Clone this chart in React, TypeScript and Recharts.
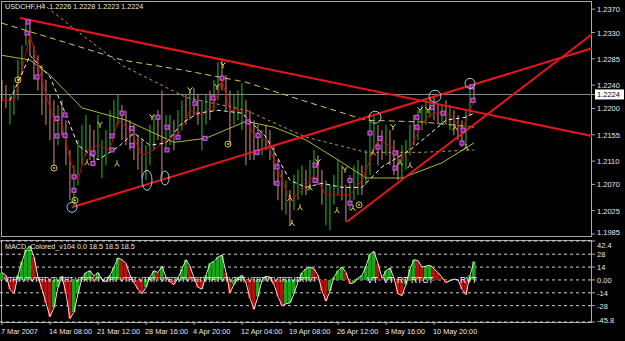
import React from "react";
import {
  ComposedChart,
  Bar,
  Line,
  XAxis,
  YAxis,
  Cell,
  ReferenceLine,
  ReferenceDot,
  Scatter,
  CartesianGrid,
} from "recharts";

// USDCHF H4 bars, one entry per bar (highs / lows, u = up bar, d = down bar)
const highs = [
  1.2249, 1.224, 1.2223, 1.224, 1.2283, 1.2308, 1.2355, 1.2351, 1.2308, 1.2291,
  1.2274, 1.2249, 1.2223, 1.2214, 1.2206, 1.2214, 1.218, 1.2129, 1.2103, 1.2146,
  1.2172, 1.2189, 1.2172, 1.2163, 1.2189, 1.2146, 1.2163, 1.2197, 1.2214, 1.2223,
  1.2206, 1.2197, 1.218, 1.2172, 1.2154, 1.2146, 1.2137, 1.2172, 1.2189, 1.2197,
  1.2231, 1.2189, 1.2189, 1.218, 1.2197, 1.2214, 1.2223, 1.2231, 1.2235, 1.2223,
  1.2214, 1.2223, 1.2231, 1.2249, 1.2279, 1.2286, 1.2257, 1.2231, 1.2223, 1.2231,
  1.2243, 1.2214, 1.2197, 1.218, 1.2172, 1.2163, 1.2172, 1.2163, 1.2137, 1.2112,
  1.2095, 1.2077, 1.206, 1.2086, 1.2095, 1.2103, 1.2095, 1.2112, 1.2129, 1.212,
  1.2095, 1.2077, 1.2069, 1.2086, 1.2112, 1.2103, 1.2069, 1.2086, 1.2103, 1.2112,
  1.2103, 1.2129, 1.218, 1.2189, 1.2172, 1.2163, 1.2172, 1.2163, 1.2146, 1.2129,
  1.2137, 1.2146, 1.2172, 1.2189, 1.2197, 1.2206, 1.2214, 1.2218, 1.2221, 1.2206,
  1.2206, 1.2214, 1.2206, 1.2197, 1.2189, 1.218, 1.2197, 1.224, 1.2235,
];
const lows = [
  1.2214, 1.2201, 1.2172, 1.2189, 1.2214, 1.2257, 1.2308, 1.2291, 1.2249, 1.2231,
  1.2189, 1.2172, 1.2146, 1.2103, 1.2137, 1.2154, 1.2103, 1.2043, 1.2032, 1.2069,
  1.2103, 1.212, 1.2112, 1.2103, 1.2112, 1.2081, 1.2103, 1.2129, 1.2154, 1.2172,
  1.2146, 1.2137, 1.2129, 1.2112, 1.2095, 1.2081, 1.2077, 1.2103, 1.2129, 1.2146,
  1.2081, 1.2129, 1.2137, 1.2129, 1.2146, 1.2163, 1.2172, 1.218, 1.2189, 1.2172,
  1.2129, 1.2172, 1.218, 1.2197, 1.2214, 1.2231, 1.2197, 1.2137, 1.2172, 1.218,
  1.2163, 1.2103, 1.2112, 1.2112, 1.212, 1.212, 1.2129, 1.2112, 1.2069, 1.2043,
  1.2026, 1.2018, 1.2, 1.2026, 1.2043, 1.2052, 1.2052, 1.206, 1.2077, 1.2069,
  1.2035, 1.2, 1.1992, 1.2035, 1.2052, 1.2043, 1.2006, 1.2026, 1.2043, 1.2052,
  1.2052, 1.2069, 1.2086, 1.2129, 1.2103, 1.2112, 1.212, 1.2103, 1.2086, 1.2077,
  1.2081, 1.2095, 1.212, 1.2137, 1.2146, 1.2163, 1.2172, 1.2184, 1.218, 1.2172,
  1.2172, 1.2172, 1.2163, 1.2154, 1.2146, 1.2134, 1.2137, 1.2189, 1.2214,
];
const dirs =
  "dduuuuuddd" + "dddduddduu" + "uudduuuuuu" + "dddddduuud" + "duuduududd" +
  "uuduuddduu" + "uddddudddd" + "duduuuduud" + "duuuudduuu" + "duuudduddd" +
  "uuuduuuudd" + "ududdduud";

// moving averages, read at [bar, price]
const slowMa: [number, number][] = [
  [0, 1.2346], [14, 1.2317], [30, 1.2283], [45, 1.2266], [61, 1.2245],
  [75, 1.2214], [91, 1.218], [105, 1.2177], [118, 1.2168],
];
const midMa: [number, number][] = [
  [10, 1.238], [20, 1.2326], [30, 1.2274], [46, 1.2219], [61, 1.2197],
  [76, 1.2151], [91, 1.2125], [105, 1.2125], [118, 1.2129],
];
const trendMa: [number, number][] = [
  [0, 1.2291], [7, 1.2283], [12, 1.2257], [20, 1.2201], [31, 1.218],
  [43, 1.2142], [51, 1.2149], [61, 1.2178], [68, 1.2168], [76, 1.2146],
  [84, 1.2112], [91, 1.2081], [100, 1.2081], [110, 1.2107], [118, 1.2141],
];
const whiteMa: [number, number][] = [
  [2, 1.2214], [7, 1.2291], [12, 1.2254], [16, 1.2189], [19, 1.2137],
  [24, 1.2112], [29, 1.2134], [33, 1.2158], [37, 1.2137], [41, 1.2141],
  [45, 1.2175], [49, 1.2192], [54, 1.2197], [60, 1.2192], [66, 1.2151],
  [72, 1.2077], [76, 1.2065], [80, 1.2072], [85, 1.2065], [90, 1.2065],
  [95, 1.21], [102, 1.2129], [106, 1.2151], [111, 1.218], [116, 1.2185],
  [118, 1.2192],
];
const fastMa: [number, number][] = [
  [0, 1.2214], [3, 1.2214], [5, 1.2266], [7, 1.2326], [9, 1.2274],
  [11, 1.2223], [13, 1.218], [15, 1.2172], [17, 1.2112], [19, 1.2077],
  [21, 1.2129], [24, 1.2137], [27, 1.2129], [29, 1.218], [32, 1.2163],
  [35, 1.212], [38, 1.2129], [41, 1.2146], [44, 1.2154], [47, 1.2197],
  [50, 1.2189], [53, 1.2206], [55, 1.2249], [57, 1.2197], [60, 1.2197],
  [63, 1.2154], [66, 1.2146], [69, 1.2095], [72, 1.2043], [75, 1.206],
  [78, 1.2086], [81, 1.2052], [84, 1.2052], [87, 1.2052], [90, 1.2077],
  [92, 1.2112], [94, 1.2146], [97, 1.2137], [100, 1.2112], [103, 1.2146],
  [106, 1.2184], [109, 1.2194], [112, 1.2189], [115, 1.2163], [117, 1.2197],
  [118, 1.2214],
];

// fractal / signal marks [bar, price]
const squareMarks: [number, number][] = [
  [6.5, 1.2348], [6.25, 1.2329], [8.75, 1.2254], [13.75, 1.2183], [15.75, 1.2189],
  [13.75, 1.2153], [15.75, 1.2154], [18, 1.2083], [18, 1.206], [22.75, 1.2124],
  [22.75, 1.2106], [27.5, 1.2153], [27.5, 1.2129], [30, 1.2192], [32.5, 1.2166],
  [32.5, 1.2137], [39, 1.2185], [41.25, 1.2168], [41.25, 1.2129], [44, 1.2151],
  [48.25, 1.2209], [52.75, 1.2218], [55, 1.2252], [50.75, 1.2149], [61.5, 1.2177],
  [63.75, 1.2125], [64, 1.2154], [68.75, 1.21], [68.75, 1.2072], [78.25, 1.2103],
  [78.25, 1.2077], [87, 1.2077], [87, 1.2038], [92, 1.2158], [94.5, 1.2149],
  [94, 1.2134], [98.25, 1.2124], [98.25, 1.2098], [103.75, 1.2185], [103.75, 1.2168],
  [107.5, 1.2202], [110.25, 1.2192], [115.25, 1.2163], [115, 1.2141], [117.5, 1.2237],
  [117.75, 1.2214],
];
const topArrows: [number, number][] = [
  [24.5, 1.2172], [37.5, 1.2185], [47, 1.2231], [53.75, 1.2237], [55.25, 1.2274],
  [79, 1.2108], [85.75, 1.2095], [97.75, 1.2168], [104.5, 1.2197], [106.5, 1.2197],
];
const bottomArrows: [number, number][] = [
  [21.25, 1.2108], [28.75, 1.2106], [72, 1.2047], [72.5, 1.2004], [74.5, 1.2031],
  [77, 1.2065], [83.75, 1.2026], [87.75, 1.203], [92.75, 1.2125], [99.5, 1.2108],
  [102, 1.2103], [113.25, 1.2168], [116, 1.2134],
];
const yellowRings: [number, number][] = [
  [4, 1.2249], [13, 1.2098], [18.25, 1.2043], [56.5, 1.2139], [89.25, 1.2035],
];
const highlightMarks: [number, number][] = [
  [17.5, 1.2031], [36.25, 1.2077], [40.75, 1.2081], [93.25, 1.2185], [108.25, 1.2221], [117, 1.2243],
];

// trend lines [bar, price] -> [bar, price]
const trendLines: [number, number, number, number][] = [
  [4.5, 1.2355, 147.5, 1.2153],
  [17.5, 1.2031, 147.5, 1.2303],
  [86.25, 1.2006, 147.5, 1.2327],
];

const lastPrice = 1.2224;
const priceTicks = [1.237, 1.233, 1.2285, 1.224, 1.2224, 1.22, 1.2155, 1.211, 1.207, 1.2025, 1.1985];

// MACD histogram per bar
const macdHist = [
  8, 5, -10, -15, 5, 20, 33, 37, 25, 3,
  -10, -25, -40, -30, -8, 4, -15, -42, -35, -15,
  2, 8, 10, 4, 8, 0, -2, 5, 14, 24,
  22, 18, 5, -3, -10, -15, -8, 3, 10, 8,
  15, 3, -2, -5, 2, 12, 22, 15, 2, -8,
  -10, 5, 18, 20, 25, 27, 8, -14, -5, 2,
  5, -3, -20, -32, -18, 0, 4, 3, -5, -18,
  -28, -26, -25, -15, -2, 8, 12, 14, 12, 5,
  -12, -23, -12, 3, 10, 14, 8, -4, -3, 2,
  5, 15, 28, 31, 18, 2, 10, 13, 2, -15,
  -17, -5, 12, 22, 21, 14, 15, 16, 12, 8,
  3, -3, -1, 1, 0, -10, -16, 5, 20,
];
const macdTicks = [42.4, 28, 14, 0, -14, -28, -45.8];

const timeTicks = [0, 12, 24, 36, 48, 60, 72, 84, 96, 108];
const timeLabels = [
  "7 Mar 2007", "14 Mar 08:00", "21 Mar 12:00", "28 Mar 16:00", "4 Apr 20:00",
  "12 Apr 04:00", "19 Apr 08:00", "26 Apr 12:00", "3 May 16:00", "10 May 20:00",
];

const toMap = (arr: [number, number][]) => new Map(arr);
const slowM = toMap(slowMa);
const midM = toMap(midMa);
const trendM = toMap(trendMa);
const whiteM = toMap(whiteMa);
const fastM = toMap(fastMa);

const rows = highs.map((h, i) => ({
  i,
  hi: h,
  lo: lows[i],
  up: dirs[i] === "u",
  slow: slowM.get(i) ?? null,
  mid: midM.get(i) ?? null,
  trend: trendM.get(i) ?? null,
  white: whiteM.get(i) ?? null,
  fast: fastM.get(i) ?? null,
  macd: macdHist[i],
  rising: i === 0 ? true : macdHist[i] >= macdHist[i - 1],
}));

const toPts = (arr: [number, number][]) => arr.map(([i, p]) => ({ i, p }));

const FONT = "'Liberation Sans', Arial, sans-serif";
const TXT = "#e6e6e6";
const FRAME = "#a8a8a8";
const X_DOMAIN = [-0.5, 147.5];
const ringSize = [[5, 5], [5, 10], [4, 7], [6, 6], [6, 6], [5, 5]];

const PriceTick = (props: any) => {
  const { x, y, payload } = props;
  const v = payload.value as number;
  if (v === lastPrice) {
    return (
      <g>
        <rect x={x - 2} y={y - 5} width={29} height={10} fill="#ffffff" />
        <text x={x} y={y + 3} fill="#000" fontSize={7.5} fontFamily={FONT}>
          {v.toFixed(4)}
        </text>
      </g>
    );
  }
  // bottom label sits a little higher so it stays inside the pane
  const dy = v === 1.1985 ? 1 : 3;
  return (
    <text x={x} y={y + dy} fill={TXT} fontSize={7.5} fontFamily={FONT}>
      {v.toFixed(4)}
    </text>
  );
};

const MacdTick = (props: any) => {
  const { x, y, payload } = props;
  const v = payload.value as number;
  const label = v === 0 ? "0.00" : String(v);
  const dy = v === 42.4 ? 7 : v === -45.8 ? 1 : 3;
  return (
    <text x={x} y={y + dy} fill={TXT} fontSize={7.5} fontFamily={FONT}>
      {label}
    </text>
  );
};

const TimeTick = (props: any) => {
  const { x, y, payload } = props;
  const idx = timeTicks.indexOf(payload.value);
  return (
    <text x={x - 1} y={y + 7} fill={TXT} fontSize={7.3} fontFamily={FONT}>
      {timeLabels[idx]}
    </text>
  );
};

const SquareShape = (props: any) => (
  <rect x={props.cx - 2} y={props.cy - 2} width={4} height={4} fill="#6a1a80" stroke="#d860ec" strokeWidth={1} />
);
const ArrowDown = (props: any) => {
  const { cx, cy } = props;
  return (
    <path
      d={`M${cx - 2.5},${cy - 3} L${cx},${cy} L${cx + 2.5},${cy - 3} M${cx},${cy} L${cx},${cy + 3}`}
      stroke="#ece44a"
      strokeWidth={1}
      fill="none"
    />
  );
};
const ArrowUp = (props: any) => {
  const { cx, cy } = props;
  return (
    <path
      d={`M${cx - 2.5},${cy + 3} L${cx},${cy} L${cx + 2.5},${cy + 3} M${cx},${cy} L${cx},${cy - 3}`}
      stroke="#ece44a"
      strokeWidth={1}
      fill="none"
    />
  );
};
const RingShape = (props: any) => (
  <g>
    <circle cx={props.cx} cy={props.cy} r={3} stroke="#d8c830" strokeWidth={1} fill="none" />
    <circle cx={props.cx} cy={props.cy} r={1} fill="#d8c830" />
  </g>
);

// divergence marks printed along the zero line
const glyphRow =
  "VTRTVTVTRTVTVTRT VTRTVTVTRT VTRT VTRT/ VTRTVTVTRTVTRTVTVTRT VTRTVTVTRTVTRTVT";
const rightGlyphs: [number, string][] = [
  [367, "VT"], [383, "VT"], [397, "RT"], [411, "RTCT"], [460, "RVT"],
];

export default function App() {
  return (
    <div
      style={{
        position: "absolute",
        left: 0,
        top: 0,
        width: 625,
        height: 341,
        background: "#000",
        overflow: "hidden",
        fontFamily: FONT,
      }}
    >
      {/* pane frames */}
      <div style={{ position: "absolute", left: 1, top: 1, width: 591, height: 236, border: `1px solid ${FRAME}`, boxSizing: "border-box" }} />
      <div style={{ position: "absolute", left: 1, top: 240, width: 591, height: 83, border: `1px solid ${FRAME}`, boxSizing: "border-box" }} />

      <div style={{ position: "absolute", left: 0, top: 0 }}>
        <ComposedChart width={625} height={239} data={rows} margin={{ top: 1, right: 0, left: 0, bottom: 2 }}>
          <XAxis dataKey="i" type="number" domain={X_DOMAIN} allowDataOverflow hide />
          <YAxis
            orientation="right"
            width={33}
            domain={[1.198, 1.2384]}
            allowDataOverflow
            ticks={priceTicks}
            interval={0}
            axisLine={false}
            tickLine={{ stroke: FRAME }}
            tickSize={3}
            tick={<PriceTick />}
          />
          <ReferenceLine y={lastPrice} stroke="#8c8c8c" strokeWidth={1} />
          <Bar dataKey={(d: any) => [d.lo, d.hi]} barSize={2} isAnimationActive={false}>
            {rows.map((r) => (
              <Cell key={r.i} fill={r.up ? "#2ad42a" : "#eea088"} />
            ))}
          </Bar>
          <Line dataKey="slow" stroke="#d8c84a" strokeWidth={1} strokeDasharray="6 4" dot={false} connectNulls isAnimationActive={false} />
          <Line dataKey="mid" stroke="#c8905a" strokeWidth={1} strokeDasharray="3 3" dot={false} connectNulls isAnimationActive={false} />
          <Line dataKey="trend" stroke="#a8bc34" strokeWidth={1} dot={false} connectNulls isAnimationActive={false} />
          <Line dataKey="fast" stroke="#c40000" strokeWidth={1} dot={false} connectNulls isAnimationActive={false} />
          <Line dataKey="white" stroke="#f2f2f2" strokeWidth={1} strokeDasharray="4 3" dot={false} connectNulls isAnimationActive={false} />
          {trendLines.map(([x1, y1, x2, y2], k) => (
            <ReferenceLine
              key={`t${k}`}
              segment={[{ x: x1, y: y1 }, { x: x2, y: y2 }]}
              stroke="#e8161a"
              strokeWidth={2}
            />
          ))}
          <Scatter data={toPts(squareMarks)} dataKey="p" shape={<SquareShape />} isAnimationActive={false} />
          <Scatter data={toPts(topArrows)} dataKey="p" shape={<ArrowDown />} isAnimationActive={false} />
          <Scatter data={toPts(bottomArrows)} dataKey="p" shape={<ArrowUp />} isAnimationActive={false} />
          <Scatter data={toPts(yellowRings)} dataKey="p" shape={<RingShape />} isAnimationActive={false} />
          {highlightMarks.map(([x, y], k) => (
            <ReferenceDot
              key={`c${k}`}
              x={x}
              y={y}
              r={5}
              shape={(p: any) => (
                <ellipse cx={p.cx} cy={p.cy} rx={ringSize[k][0]} ry={ringSize[k][1]} fill="none" stroke="#8fd3e6" strokeWidth={1} />
              )}
            />
          ))}
        </ComposedChart>
      </div>

      <div style={{ position: "absolute", left: 0, top: 239 }}>
        <ComposedChart width={625} height={102} data={rows} margin={{ top: 2, right: 0, left: 0, bottom: 2 }}>
          <CartesianGrid vertical={false} stroke="#d0d0d0" strokeDasharray="3 3" />
          <XAxis
            dataKey="i"
            type="number"
            domain={X_DOMAIN}
            allowDataOverflow
            ticks={timeTicks}
            interval={0}
            height={17}
            axisLine={false}
            tickLine={{ stroke: FRAME }}
            tickSize={3}
            tick={<TimeTick />}
          />
          <YAxis
            orientation="right"
            width={33}
            domain={[-45.8, 42.4]}
            allowDataOverflow
            ticks={macdTicks}
            interval={0}
            axisLine={false}
            tickLine={{ stroke: FRAME }}
            tickSize={3}
            tick={<MacdTick />}
          />
          <Bar dataKey="macd" barSize={4} isAnimationActive={false}>
            {rows.map((r) => (
              <Cell key={r.i} fill={r.rising ? "#1aa41a" : "#b01212"} />
            ))}
          </Bar>
          <Line dataKey="macd" stroke="#f0dcdc" strokeWidth={1} dot={false} isAnimationActive={false} />
        </ComposedChart>
      </div>

      {/* titles */}
      <div style={{ position: "absolute", left: 5, top: 2, color: TXT, fontSize: 7.2, whiteSpace: "nowrap" }}>
        USDCHF,H4&nbsp;&nbsp;1.2226 1.2228 1.2223 1.2224
      </div>
      <div style={{ position: "absolute", left: 5, top: 242, color: TXT, fontSize: 7.2, whiteSpace: "nowrap" }}>
        MACD_Colored_v104 0.0 18.5 18.5 18.5
      </div>

      {/* divergence labels along the zero line */}
      <div style={{ position: "absolute", left: 4, top: 276, color: "#fff", fontSize: 7, whiteSpace: "nowrap", letterSpacing: -0.2 }}>
        {glyphRow}
      </div>
      {rightGlyphs.map(([x, t]) => (
        <div key={x} style={{ position: "absolute", left: x, top: 275, color: "#fff", fontSize: 8.5, whiteSpace: "nowrap" }}>
          {t}
        </div>
      ))}
    </div>
  );
}
